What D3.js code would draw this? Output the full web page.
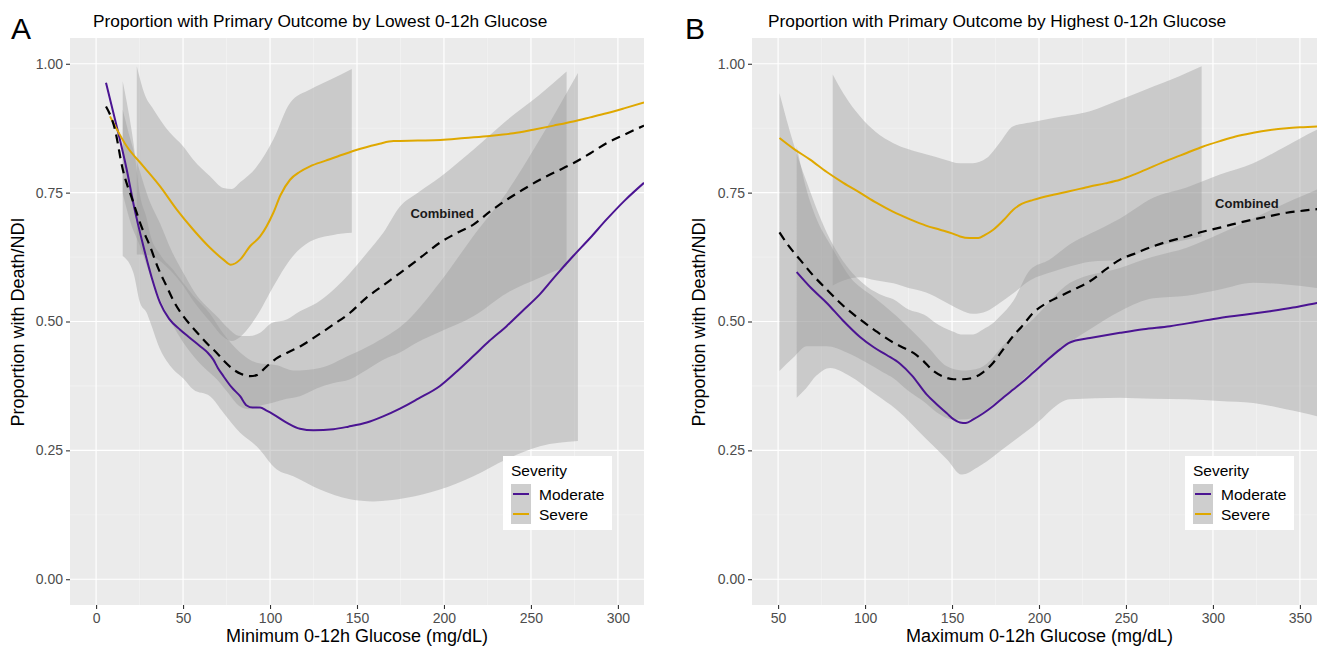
<!DOCTYPE html>
<html>
<head>
<meta charset="utf-8">
<script src="https://cdn.jsdelivr.net/npm/d3@7"></script>
<style>
  body { margin: 0; background: #fff; }
  svg { display: block; font-family: "Liberation Sans", Arial, sans-serif; }
</style>
</head>
<body>
<svg id="chart" width="1317" height="647"></svg>
<script>
// ---- panel A: lowest 0-12h glucose ----
const aModerate = [[5.7,0.963],[11.9,0.878],[17.6,0.795],[22,0.72],[27.2,0.646],[32,0.585],[36.8,0.536],[42,0.505],[48.3,0.484],[54,0.468],[59.8,0.452],[64,0.44],[67.4,0.426],[70,0.41],[73.2,0.394],[78,0.372],[82.8,0.355],[86.6,0.337],[90,0.333],[94.3,0.333],[98,0.327],[101.9,0.32],[109,0.305],[117.2,0.292],[125,0.289],[136.4,0.291],[145,0.296],[155.6,0.304],[165,0.316],[174.7,0.331],[185,0.35],[197.7,0.375],[207,0.402],[216.9,0.433],[226,0.462],[236,0.491],[245,0.52],[255.2,0.553],[264,0.588],[274.3,0.627],[284,0.662],[293.5,0.698],[304,0.735],[315,0.769]];
const aSevere = [[8,0.898],[17.6,0.84],[27.2,0.801],[36.8,0.762],[46.4,0.717],[55.9,0.678],[65.5,0.643],[73.2,0.62],[77.4,0.61],[82.8,0.62],[88.5,0.646],[94.3,0.665],[101.9,0.711],[106,0.745],[111.5,0.775],[117,0.79],[123,0.801],[132,0.812],[142,0.824],[152,0.835],[163,0.845],[171,0.85],[185,0.851],[198,0.852],[212,0.856],[226.4,0.86],[240,0.865],[251.3,0.872],[263,0.88],[274.3,0.888],[284,0.896],[293.5,0.904],[304,0.914],[315,0.925]];
const aCombined = [[5.7,0.917],[10.9,0.872],[15,0.8],[21.5,0.73],[26,0.685],[31,0.646],[35.5,0.605],[40.6,0.568],[45,0.537],[50.2,0.51],[55,0.49],[59.8,0.472],[64.5,0.455],[69.4,0.439],[74,0.422],[78.9,0.407],[83.5,0.398],[88.5,0.394],[92.3,0.396],[98.1,0.413],[103.5,0.428],[109.6,0.439],[118,0.453],[126.8,0.472],[136.4,0.494],[146,0.517],[155,0.545],[165,0.57],[174.7,0.594],[185,0.62],[197.7,0.653],[207,0.671],[216.9,0.688],[226,0.712],[236,0.736],[245,0.755],[255.2,0.775],[264,0.79],[274.3,0.807],[284,0.826],[293.5,0.846],[304,0.863],[315,0.88]];
// bands: [x, lower, upper]
const aModBand = [[15.3,0.627,0.966],[21.5,0.594,0.846],[25.3,0.536,0.744],[29.1,0.517,0.7],[31,0.5,0.67],[36.8,0.446,0.63],[44.4,0.407,0.6],[50,0.39,0.575],[55.9,0.368,0.55],[65.5,0.355,0.515],[73.2,0.323,0.476],[82.8,0.284,0.44],[92.3,0.258,0.42],[103.9,0.213,0.415],[113.4,0.2,0.405],[128.7,0.174,0.41],[146,0.155,0.435],[159.4,0.151,0.457],[178.5,0.158,0.5],[197.7,0.174,0.576],[216.9,0.2,0.666],[236,0.233,0.75],[255.2,0.258,0.854],[277,0.268,0.982]];
const aSevBand = [[23.4,0.63,0.995],[28,0.63,0.94],[32.9,0.625,0.912],[42.5,0.6,0.866],[50,0.57,0.84],[55.9,0.54,0.814],[65.5,0.5,0.782],[73.2,0.47,0.759],[78,0.462,0.757],[82.8,0.47,0.77],[92.3,0.51,0.8],[101.9,0.568,0.853],[111.5,0.62,0.924],[123,0.655,0.95],[136.4,0.668,0.972],[147,0.672,0.99]];
const aCombBand = [[15.3,0.749,0.911],[20,0.69,0.85],[25.3,0.646,0.79],[30,0.6,0.74],[36.8,0.543,0.69],[43,0.5,0.64],[50.2,0.459,0.594],[58,0.425,0.55],[65.5,0.4,0.523],[69.4,0.388,0.51],[75,0.365,0.49],[82.8,0.335,0.472],[88,0.33,0.472],[94.3,0.337,0.478],[101,0.342,0.497],[109.6,0.35,0.504],[117.2,0.355,0.52],[126.8,0.37,0.536],[136,0.38,0.56],[146,0.388,0.594],[155,0.405,0.63],[165.1,0.426,0.672],[174.7,0.44,0.723],[185,0.46,0.75],[197.7,0.48,0.78],[216.9,0.51,0.833],[236,0.555,0.89],[255,0.585,0.94],[270.5,0.607,0.985]];

// ---- panel B: highest 0-12h glucose ----
const bModerate = [[60.7,0.596],[69,0.565],[78,0.536],[87,0.503],[97.1,0.47],[105,0.45],[112.4,0.435],[120.1,0.418],[127,0.395],[135.5,0.358],[141,0.34],[147,0.322],[151,0.31],[154.6,0.304],[158,0.303],[162.2,0.31],[168,0.322],[173.7,0.336],[180,0.354],[185.2,0.368],[190,0.381],[196.7,0.401],[204,0.423],[212.1,0.446],[217,0.458],[221,0.463],[229.3,0.468],[246.6,0.478],[260,0.485],[275.3,0.491],[290,0.499],[304,0.507],[318,0.513],[332.8,0.52],[346,0.527],[359.8,0.536],[365,0.539]];
const bSevere = [[50.8,0.856],[59,0.835],[68.4,0.814],[78,0.79],[87.5,0.769],[97,0.75],[106.7,0.73],[116,0.713],[125.9,0.698],[135,0.686],[143.1,0.678],[150,0.671],[154.6,0.665],[160,0.662],[165.1,0.662],[169,0.668],[173.7,0.678],[180,0.698],[185.2,0.717],[190,0.728],[196.7,0.736],[208.2,0.746],[218,0.753],[229.3,0.762],[238,0.768],[246.6,0.775],[256,0.787],[265.7,0.801],[275,0.814],[284.9,0.827],[294,0.839],[304,0.85],[313,0.859],[323.2,0.866],[332,0.871],[342.4,0.875],[352,0.877],[365,0.879]];
const bCombined = [[50.8,0.673],[56,0.647],[62.6,0.62],[70,0.59],[78,0.562],[87,0.532],[97.1,0.504],[106,0.482],[116.3,0.459],[122,0.449],[127.8,0.439],[133,0.425],[139.3,0.404],[145,0.393],[150.8,0.388],[156,0.388],[162.2,0.391],[168,0.402],[173.7,0.42],[179,0.444],[185.2,0.472],[190,0.49],[196.7,0.517],[204,0.535],[212.1,0.549],[220,0.562],[229.3,0.578],[238,0.6],[246.6,0.62],[256,0.633],[265.7,0.646],[275,0.656],[284.9,0.665],[294,0.674],[304,0.682],[313,0.69],[323.2,0.698],[332,0.704],[342.4,0.711],[352,0.715],[365,0.72]];
const bSevBand = [[81.4,0.57,0.979],[88,0.58,0.94],[97.1,0.586,0.898],[106,0.58,0.868],[116.3,0.574,0.846],[125,0.565,0.834],[135.5,0.556,0.824],[145,0.54,0.815],[154.6,0.523,0.807],[162,0.515,0.807],[169.9,0.52,0.817],[177,0.535,0.845],[185.2,0.555,0.879],[195,0.58,0.886],[208.2,0.597,0.895],[218,0.607,0.9],[229.3,0.616,0.908],[246.6,0.62,0.93],[265.7,0.644,0.956],[280,0.655,0.975],[293.5,0.665,0.995]];
const bCombBand = [[50.8,0.404,0.943],[58.8,0.43,0.846],[66.5,0.452,0.77],[78,0.452,0.672],[89.5,0.44,0.607],[101,0.42,0.568],[110.5,0.401,0.55],[116.3,0.39,0.543],[123.9,0.368,0.525],[135.5,0.34,0.51],[139.3,0.329,0.5],[150.8,0.31,0.48],[155,0.31,0.475],[162.2,0.313,0.475],[168,0.325,0.485],[173.7,0.34,0.497],[177.6,0.349,0.51],[185.2,0.37,0.54],[194.8,0.4,0.6],[206,0.43,0.62],[217.8,0.46,0.65],[229.3,0.485,0.67],[246.6,0.52,0.7],[265.7,0.545,0.74],[284.9,0.55,0.76],[304,0.562,0.785],[323.2,0.575,0.807],[342,0.572,0.84],[359.8,0.565,0.872],[365,0.562,0.88]];
const bModBand = [[60.7,0.352,0.84],[66,0.37,0.76],[72,0.395,0.7],[79.9,0.41,0.65],[91.4,0.394,0.586],[104.8,0.362,0.548],[118.2,0.329,0.51],[135.5,0.271,0.453],[147,0.233,0.413],[155.6,0.203,0.405],[166.1,0.22,0.41],[181.4,0.258,0.46],[196.7,0.297,0.505],[217.8,0.349,0.575],[246.6,0.352,0.604],[265,0.35,0.625],[284.9,0.349,0.643],[304,0.346,0.67],[323.2,0.342,0.7],[342,0.33,0.73],[359.8,0.316,0.756],[365,0.31,0.765]];

const yTicks = [0, 0.25, 0.5, 0.75, 1];
const aXTicks = [0, 50, 100, 150, 200, 250, 300];
const bXTicks = [50, 100, 150, 200, 250, 300, 350];
const severityLevels = ["Moderate", "Severe"];

const colModerate = "#4b1492";
const colSevere = "#dfa800";

const svg = d3.select("#chart");

function drawPanel(opt) {
  const x = d3.scaleLinear().domain(opt.xDomain).range(opt.xRange);
  const y = d3.scaleLinear().domain([-0.05, 1.05]).range([605, 38]);
  const [x0, x1] = opt.xRange;
  const g = svg.append("g");

  const clipId = "clip-" + opt.letter;
  svg.append("clipPath").attr("id", clipId)
    .append("rect").attr("x", x0).attr("y", 38).attr("width", x1 - x0).attr("height", 567);

  g.append("rect").attr("x", x0).attr("y", 38).attr("width", x1 - x0).attr("height", 567).attr("fill", "#ebebeb");

  // minor grid
  const xMinor = opt.xTicks.slice(0, -1).map((t, i) => (t + opt.xTicks[i + 1]) / 2);
  if (opt.xTicks[opt.xTicks.length - 1] + 25 < opt.xDomain[1]) xMinor.push(opt.xTicks[opt.xTicks.length - 1] + 25);
  const yMinor = [0.125, 0.375, 0.625, 0.875];
  g.selectAll(".xmin").data(xMinor).join("line")
    .attr("x1", d => x(d)).attr("x2", d => x(d)).attr("y1", 38).attr("y2", 605)
    .attr("stroke", "#f5f5f5").attr("stroke-width", 0.6);
  g.selectAll(".ymin").data(yMinor).join("line")
    .attr("x1", x0).attr("x2", x1).attr("y1", d => y(d)).attr("y2", d => y(d))
    .attr("stroke", "#f5f5f5").attr("stroke-width", 0.6);
  g.selectAll(".xmaj").data(opt.xTicks).join("line")
    .attr("x1", d => x(d)).attr("x2", d => x(d)).attr("y1", 38).attr("y2", 605)
    .attr("stroke", "#fff").attr("stroke-width", 1.2);
  g.selectAll(".ymaj").data(yTicks).join("line")
    .attr("x1", x0).attr("x2", x1).attr("y1", d => y(d)).attr("y2", d => y(d))
    .attr("stroke", "#fff").attr("stroke-width", 1.2);

  const plot = g.append("g").attr("clip-path", `url(#${clipId})`);

  const area = d3.area().curve(d3.curveMonotoneX)
    .x(d => x(d[0])).y0(d => y(d[1])).y1(d => y(d[2]));
  const line = d3.line().curve(d3.curveMonotoneX)
    .x(d => x(d[0])).y(d => y(d[1]));

  [opt.modBand, opt.sevBand, opt.combBand].forEach(b => {
    plot.append("path").attr("d", area(b)).attr("fill", "#999999").attr("fill-opacity", 0.4);
  });

  plot.append("path").attr("d", line(opt.moderate)).attr("fill", "none")
    .attr("stroke", colModerate).attr("stroke-width", 2);
  plot.append("path").attr("d", line(opt.severe)).attr("fill", "none")
    .attr("stroke", colSevere).attr("stroke-width", 2);
  plot.append("path").attr("d", line(opt.combined)).attr("fill", "none")
    .attr("stroke", "#000").attr("stroke-width", 2.2).attr("stroke-dasharray", "9,6");

  plot.append("text").attr("x", x(opt.labelAt[0])).attr("y", y(opt.labelAt[1]))
    .attr("text-anchor", "middle").attr("dominant-baseline", "middle")
    .attr("font-size", 13).attr("font-weight", "bold").attr("fill", "#1a1a1a")
    .text("Combined");

  // axes
  const ax = g.append("g").attr("transform", "translate(0,605)")
    .call(d3.axisBottom(x).tickValues(opt.xTicks).tickSize(4).tickPadding(4).tickFormat(d3.format("d")));
  const ay = g.append("g").attr("transform", `translate(${x0},0)`)
    .call(d3.axisLeft(y).tickValues(yTicks).tickSize(4).tickPadding(3).tickFormat(d3.format(".2f")));
  [ax, ay].forEach(a => {
    a.select(".domain").remove();
    a.selectAll(".tick line").attr("stroke", "#333").attr("stroke-width", 1.1);
    a.selectAll(".tick text").attr("fill", "#4d4d4d").attr("font-size", 14)
      .attr("font-family", '"Liberation Sans", Arial, sans-serif');
  });

  // titles
  svg.append("text").attr("x", opt.titleX).attr("y", 27).attr("font-size", 17.3).attr("fill", "#000")
    .text(opt.title);
  svg.append("text").attr("x", opt.letterX).attr("y", 39).attr("font-size", 30).attr("fill", "#000")
    .text(opt.letter);
  svg.append("text").attr("x", (x0 + Math.min(x1, 1317)) / 2 + opt.xTitleShift).attr("y", 642)
    .attr("text-anchor", "middle").attr("font-size", 18).attr("fill", "#000").text(opt.xTitle);
  svg.append("text").attr("transform", `translate(${opt.yTitleX},322) rotate(-90)`)
    .attr("text-anchor", "middle").attr("font-size", 18).attr("fill", "#000")
    .text("Proportion with Death/NDI");

  // legend
  const lg = svg.append("g").attr("transform", `translate(${opt.legendX},456)`);
  lg.append("rect").attr("width", 109).attr("height", 74).attr("fill", "#fff");
  lg.append("text").attr("x", 8).attr("y", 20).attr("font-size", 15.5).attr("fill", "#000").text("Severity");
  severityLevels.forEach((s, i) => {
    const ky = 28 + i * 20;
    lg.append("rect").attr("x", 8).attr("y", ky).attr("width", 20).attr("height", 20).attr("fill", "#f2f2f2");
    lg.append("rect").attr("x", 8).attr("y", ky).attr("width", 20).attr("height", 20)
      .attr("fill", "#999999").attr("fill-opacity", 0.4);
    lg.append("line").attr("x1", 10).attr("x2", 26).attr("y1", ky + 10).attr("y2", ky + 10)
      .attr("stroke", i === 0 ? colModerate : colSevere).attr("stroke-width", 2);
    lg.append("text").attr("x", 36).attr("y", ky + 15.5).attr("font-size", 15.5).attr("fill", "#000").text(s);
  });
}

drawPanel({
  letter: "A", letterX: 11, title: "Proportion with Primary Outcome by Lowest 0-12h Glucose", titleX: 93,
  xTitle: "Minimum 0-12h Glucose (mg/dL)", xTitleShift: 0, yTitleX: 24,
  xDomain: [-15, 315], xRange: [70, 644], xTicks: aXTicks,
  moderate: aModerate, severe: aSevere, combined: aCombined,
  modBand: aModBand, sevBand: aSevBand, combBand: aCombBand,
  labelAt: [199, 0.707], legendX: 503
});
drawPanel({
  letter: "B", letterX: 685, title: "Proportion with Primary Outcome by Highest 0-12h Glucose", titleX: 768,
  xTitle: "Maximum 0-12h Glucose (mg/dL)", xTitleShift: 5, yTitleX: 705,
  xDomain: [35, 365], xRange: [752, 1326], xTicks: bXTicks,
  moderate: bModerate, severe: bSevere, combined: bCombined,
  modBand: bModBand, sevBand: bSevBand, combBand: bCombBand,
  labelAt: [319.5, 0.727], legendX: 1185
});
</script>
</body>
</html>
